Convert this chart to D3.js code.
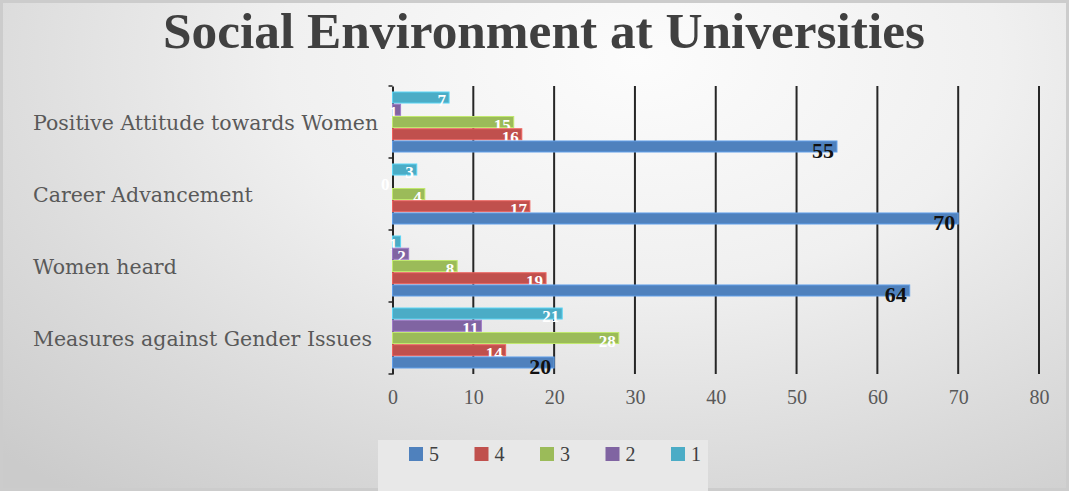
<!DOCTYPE html>
<html>
<head>
<meta charset="utf-8">
<script src="https://cdn.jsdelivr.net/npm/d3@7"></script>
<style>
  html, body { margin: 0; padding: 0; background: #ffffff; }
  svg { display: block; }
</style>
</head>
<body>
<svg id="chart" width="1069" height="491"></svg>
<script>
// Survey responses per category, one array per rating (5 = highest)
const categories = ["Positive Attitude towards Women", "Career Advancement", "Women heard", "Measures against Gender Issues"];
const seriesNames = ["5", "4", "3", "2", "1"];
const rating5 = [55, 70, 64, 20];
const rating4 = [16, 17, 19, 14];
const rating3 = [15, 4, 8, 28];
const rating2 = [1, 0, 2, 11];
const rating1 = [7, 3, 1, 21];
const tickValues = [0, 10, 20, 30, 40, 50, 60, 70, 80];
const titleText = "Social Environment at Universities";

const seriesValues = { "5": rating5, "4": rating4, "3": rating3, "2": rating2, "1": rating1 };
const colors = { "5": "#4f81bd", "4": "#c0504d", "3": "#9bbb59", "2": "#8064a2", "1": "#4bacc6" };

const W = 1069, H = 491;
const svg = d3.select("#chart");
const defs = svg.append("defs");

// Soft grey backdrop, brightest at the top centre
const bg = defs.append("radialGradient")
  .attr("id", "bgGrad")
  .attr("gradientUnits", "userSpaceOnUse")
  .attr("cx", 640).attr("cy", 60).attr("r", 900)
  .attr("gradientTransform", "translate(640,60) scale(1,0.62) translate(-640,-60)");
bg.append("stop").attr("offset", 0).attr("stop-color", "#fcfcfc");
bg.append("stop").attr("offset", 0.4).attr("stop-color", "#f0f0f0");
bg.append("stop").attr("offset", 0.75).attr("stop-color", "#dadada");
bg.append("stop").attr("offset", 1).attr("stop-color", "#cbcbcb");

svg.append("rect").attr("width", W).attr("height", H).attr("fill", "url(#bgGrad)");
svg.append("rect").attr("x", 1.5).attr("y", 1.5).attr("width", W - 3).attr("height", H - 3)
  .attr("fill", "none").attr("stroke", "#cccccc").attr("stroke-width", 3);

// Title
svg.append("text")
  .attr("x", 163).attr("y", 48)
  .attr("textLength", 762).attr("lengthAdjust", "spacingAndGlyphs")
  .attr("font-family", "Liberation Serif, serif")
  .attr("font-weight", "bold")
  .attr("font-size", 50)
  .attr("fill", "#404040")
  .text(titleText);

// Scales
const x = d3.scaleLinear().domain([0, 80]).range([392.5, 1039]);
const y0 = d3.scaleBand().domain(categories).range([86, 374]).paddingInner(1 / 6).paddingOuter(1 / 12);
const barOrder = ["1", "2", "3", "4", "5"]; // top to bottom within a group
const y1 = d3.scaleBand().domain(barOrder).range([0, y0.bandwidth()]).paddingInner(0.1);

// Vertical gridlines
svg.append("g")
  .selectAll("line")
  .data(tickValues.filter(t => t > 0))
  .join("line")
  .attr("x1", d => x(d)).attr("x2", d => x(d))
  .attr("y1", 86).attr("y2", 374)
  .attr("stroke", "#262626").attr("stroke-width", 2);

// Category axis on the left edge of the plot
const yAxis = d3.axisLeft(y0).tickSize(0).tickPadding(0).tickFormat("");
const yAxisG = svg.append("g").attr("transform", `translate(${x(0)},0)`).call(yAxis);
yAxisG.select(".domain").attr("stroke", "#262626").attr("stroke-width", 2);
// Tick marks between categories
svg.append("g").selectAll("line")
  .data(d3.range(categories.length + 1))
  .join("line")
  .attr("x1", x(0) - 4).attr("x2", x(0))
  .attr("y1", i => 86 + i * y0.step()).attr("y2", i => 86 + i * y0.step())
  .attr("stroke", "#262626").attr("stroke-width", 1.5);

// Category labels
svg.append("g").selectAll("text")
  .data(categories)
  .join("text")
  .attr("x", 33)
  .attr("y", d => y0(d) + y0.bandwidth() / 2 + 8)
  .attr("font-family", "DejaVu Serif, serif")
  .attr("font-size", 20.5)
  .attr("fill", "#595959")
  .text(d => d);

// Value axis along the bottom (labels only)
const xAxis = d3.axisBottom(x).tickValues(tickValues).tickSize(0).tickPadding(0).tickFormat(d3.format("d"));
const xAxisG = svg.append("g").attr("transform", "translate(0,390)").call(xAxis);
xAxisG.select(".domain").remove();
xAxisG.selectAll("text")
  .attr("dy", "0.71em")
  .attr("font-family", "Liberation Serif, serif")
  .attr("font-size", 20)
  .attr("fill", "#595959");

// Bars
const groups = svg.append("g").selectAll("g")
  .data(categories)
  .join("g")
  .attr("transform", d => `translate(0,${y0(d)})`);

const rows = groups.selectAll("g.bar")
  .data((c, i) => barOrder.map(s => ({ s, v: seriesValues[s][i] })))
  .join("g").attr("class", "bar");

rows.append("rect")
  .attr("x", x(0))
  .attr("y", d => y1(d.s))
  .attr("width", d => x(d.v) - x(0))
  .attr("height", y1.bandwidth())
  .attr("fill", d => colors[d.s])
  .attr("stroke", d => d3.color(colors[d.s]).brighter(0.6))
  .attr("stroke-width", 1);

// Data labels at the inside end of each bar
rows.append("text")
  .attr("x", d => x(d.v) - 3)
  .attr("y", d => y1(d.s) + y1.bandwidth() / 2 + (d.s === "5" ? 4 : 3))
  .attr("dominant-baseline", "central")
  .attr("text-anchor", "end")
  .attr("font-family", "Liberation Serif, serif")
  .attr("font-weight", "bold")
  .attr("font-size", d => d.s === "5" ? 22 : 17)
  .attr("fill", d => d.s === "5" ? "#111111" : "#ffffff")
  .text(d => d.v);

// Legend
const legend = svg.append("g");
legend.append("rect")
  .attr("x", 378).attr("y", 440).attr("width", 330).attr("height", 51)
  .attr("fill", "#e8e8e8");
const legendItems = legend.selectAll("g.item")
  .data(seriesNames)
  .join("g").attr("class", "item")
  .attr("transform", (d, i) => `translate(${409 + i * 65.5},454)`);
legendItems.append("rect")
  .attr("x", 0).attr("y", -7).attr("width", 14).attr("height", 14)
  .attr("fill", d => colors[d]);
legendItems.append("text")
  .attr("x", 20).attr("y", 0)
  .attr("dominant-baseline", "central")
  .attr("font-family", "Liberation Serif, serif")
  .attr("font-size", 20)
  .attr("fill", "#404040")
  .text(d => d);
</script>
</body>
</html>
